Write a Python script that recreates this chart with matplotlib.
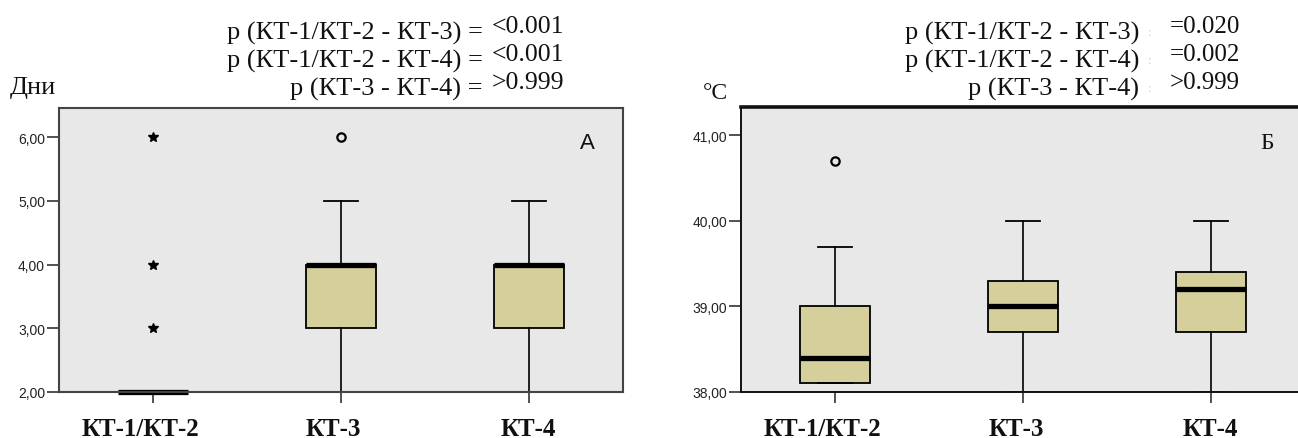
import matplotlib
matplotlib.use('Agg')
import matplotlib.pyplot as plt
from matplotlib.transforms import ScaledTranslation

W, H = 1298, 439
DPI = 100

GROUPS = ['КТ-1/КТ-2', 'КТ-3', 'КТ-4']

# Дни (длительность лихорадки)
days_q1 = [2.0, 3.0, 3.0]
days_med = [2.0, 4.0, 4.0]
days_q3 = [2.0, 4.0, 4.0]
days_wlo = [2.0, 2.0, 2.0]
days_whi = [2.0, 5.0, 5.0]
days_outliers = [[], [6.0], []]
days_extremes = [[3.0, 4.0, 6.0], [], []]
days_p_labels = ['p (КТ-1/КТ-2 - КТ-3) =', 'p (КТ-1/КТ-2 - КТ-4) =', 'p (КТ-3 - КТ-4) =']
days_p_values = ['<0.001', '<0.001', '>0.999']

# Температура, °C
temp_q1 = [38.1, 38.7, 38.7]
temp_med = [38.4, 39.0, 39.2]
temp_q3 = [39.0, 39.3, 39.4]
temp_wlo = [38.1, 38.0, 38.0]
temp_whi = [39.7, 40.0, 40.0]
temp_outliers = [[40.7], [], []]
temp_extremes = [[], [], []]
temp_p_labels = ['p (КТ-1/КТ-2 - КТ-3)', 'p (КТ-1/КТ-2 - КТ-4)', 'p (КТ-3 - КТ-4)']
temp_p_values = ['=0.020', '=0.002', '>0.999']

BOX_COLOR = '#d4cf9b'
FACE = '#e8e8e8'
SERIF = ['Liberation Serif', 'DejaVu Serif']
SANS = ['Liberation Sans', 'DejaVu Sans']


def px_rect(x0, y0, x1, y1):
    return [x0 / W, 1 - y1 / H, (x1 - x0) / W, (y1 - y0) / H]


def draw_panel(ax, q1, med, q3, wlo, whi, outliers, extremes, ylim, yticks, letter, label_shift):
    stats = []
    for i in range(len(GROUPS)):
        stats.append({'q1': q1[i], 'med': med[i], 'q3': q3[i],
                      'whislo': wlo[i], 'whishi': whi[i], 'fliers': []})
    pos = list(range(len(GROUPS)))
    art = ax.bxp(stats, positions=pos, widths=0.37, patch_artist=True,
                 showfliers=False, capwidths=0.186,
                 boxprops=dict(facecolor=BOX_COLOR, edgecolor='black', linewidth=1.3),
                 medianprops=dict(color='black', linewidth=3.8, solid_capstyle='butt'),
                 whiskerprops=dict(color='black', linewidth=1.2),
                 capprops=dict(color='black', linewidth=1.3))
    for ln in art['medians']:
        ln.set_clip_on(False)
    for i in pos:
        if outliers[i]:
            ax.plot([i] * len(outliers[i]), outliers[i], 'o', ms=6, mfc='none',
                    mec='black', mew=1.6, clip_on=False)
        if extremes[i]:
            ax.plot([i] * len(extremes[i]), extremes[i], '*', ms=7, color='black',
                    clip_on=False)
    ax.set_facecolor(FACE)
    ax.set_xlim(-0.5, len(GROUPS) - 0.5)
    ax.set_ylim(*ylim)
    ax.set_yticks(yticks)
    ax.set_yticklabels([f'{v:.2f}'.replace('.', ',') for v in yticks],
                       fontfamily=SANS, fontsize=10, color='#222')
    ax.set_xticks(pos)
    ax.set_xticklabels(GROUPS, fontfamily=SERIF, fontsize=18, fontweight='bold', color='#111')
    ax.tick_params(axis='y', direction='out', length=9, width=1.2, pad=1, color='#333')
    ax.tick_params(axis='x', direction='out', length=8, width=1.2, pad=10, color='#333')
    for lab, dx in zip(ax.get_xticklabels(), label_shift):
        lab.set_transform(lab.get_transform() + ScaledTranslation(dx / DPI, 0, ax.figure.dpi_scale_trans))
    ax.text(letter[1], letter[2], letter[0], transform=ax.transAxes, ha='center', va='center',
            fontsize=letter[3], fontfamily=letter[4], color='#111')


fig = plt.figure(figsize=(W / DPI, H / DPI), dpi=DPI)
fig.patch.set_facecolor('white')

ax1 = fig.add_axes(px_rect(59, 109, 623, 393))
draw_panel(ax1, days_q1, days_med, days_q3, days_wlo, days_whi, days_outliers, days_extremes,
           (2.0, 6.46), [2, 3, 4, 5, 6], ('А', 0.936, 0.88, 16, SANS), [-13, -8, -1])
for sp in ax1.spines.values():
    sp.set_color('#444')
    sp.set_linewidth(1.5)

ax2 = fig.add_axes(px_rect(741, 108, 1305, 393))
draw_panel(ax2, temp_q1, temp_med, temp_q3, temp_wlo, temp_whi, temp_outliers, temp_extremes,
           (38.0, 41.33), [38, 39, 40, 41], ('Б', 0.933, 0.876, 17, SERIF), [-13, -7, -1])
for sp in ax2.spines.values():
    sp.set_color('#111')
    sp.set_linewidth(1.4)
ax2.spines['top'].set_linewidth(2.6)

# подписи единиц
fig.text(10 / W, 1 - 94 / H, 'Дни', fontfamily=SERIF, fontsize=19, color='#111', ha='left', va='baseline')
fig.text(703 / W, 1 - 99 / H, '°C', fontfamily=SERIF, fontsize=17, color='#111', ha='left', va='baseline')

# уровни значимости
baselines = [40, 68, 96]
for lab, val, yb in zip(days_p_labels, days_p_values, baselines):
    fig.text(483 / W, 1 - yb / H, lab, fontfamily=SERIF, fontsize=19, color='#111',
             ha='right', va='baseline')
    fig.text(492 / W, 1 - (yb - 7) / H, val, fontfamily=SERIF, fontsize=18.5, color='#111',
             ha='left', va='baseline')
for lab, val, yb in zip(temp_p_labels, temp_p_values, baselines):
    fig.text(1139 / W, 1 - yb / H, lab, fontfamily=SERIF, fontsize=19, color='#111',
             ha='right', va='baseline')
    fig.text(1148 / W, 1 - (yb - 4) / H, ':', fontfamily=SERIF, fontsize=9, color='#c8c8c8',
             ha='left', va='baseline')
    fig.text(1170 / W, 1 - (yb - 7) / H, val, fontfamily=SERIF, fontsize=18, color='#111',
             ha='left', va='baseline')

fig.savefig('out.png', dpi=DPI, facecolor='white')
